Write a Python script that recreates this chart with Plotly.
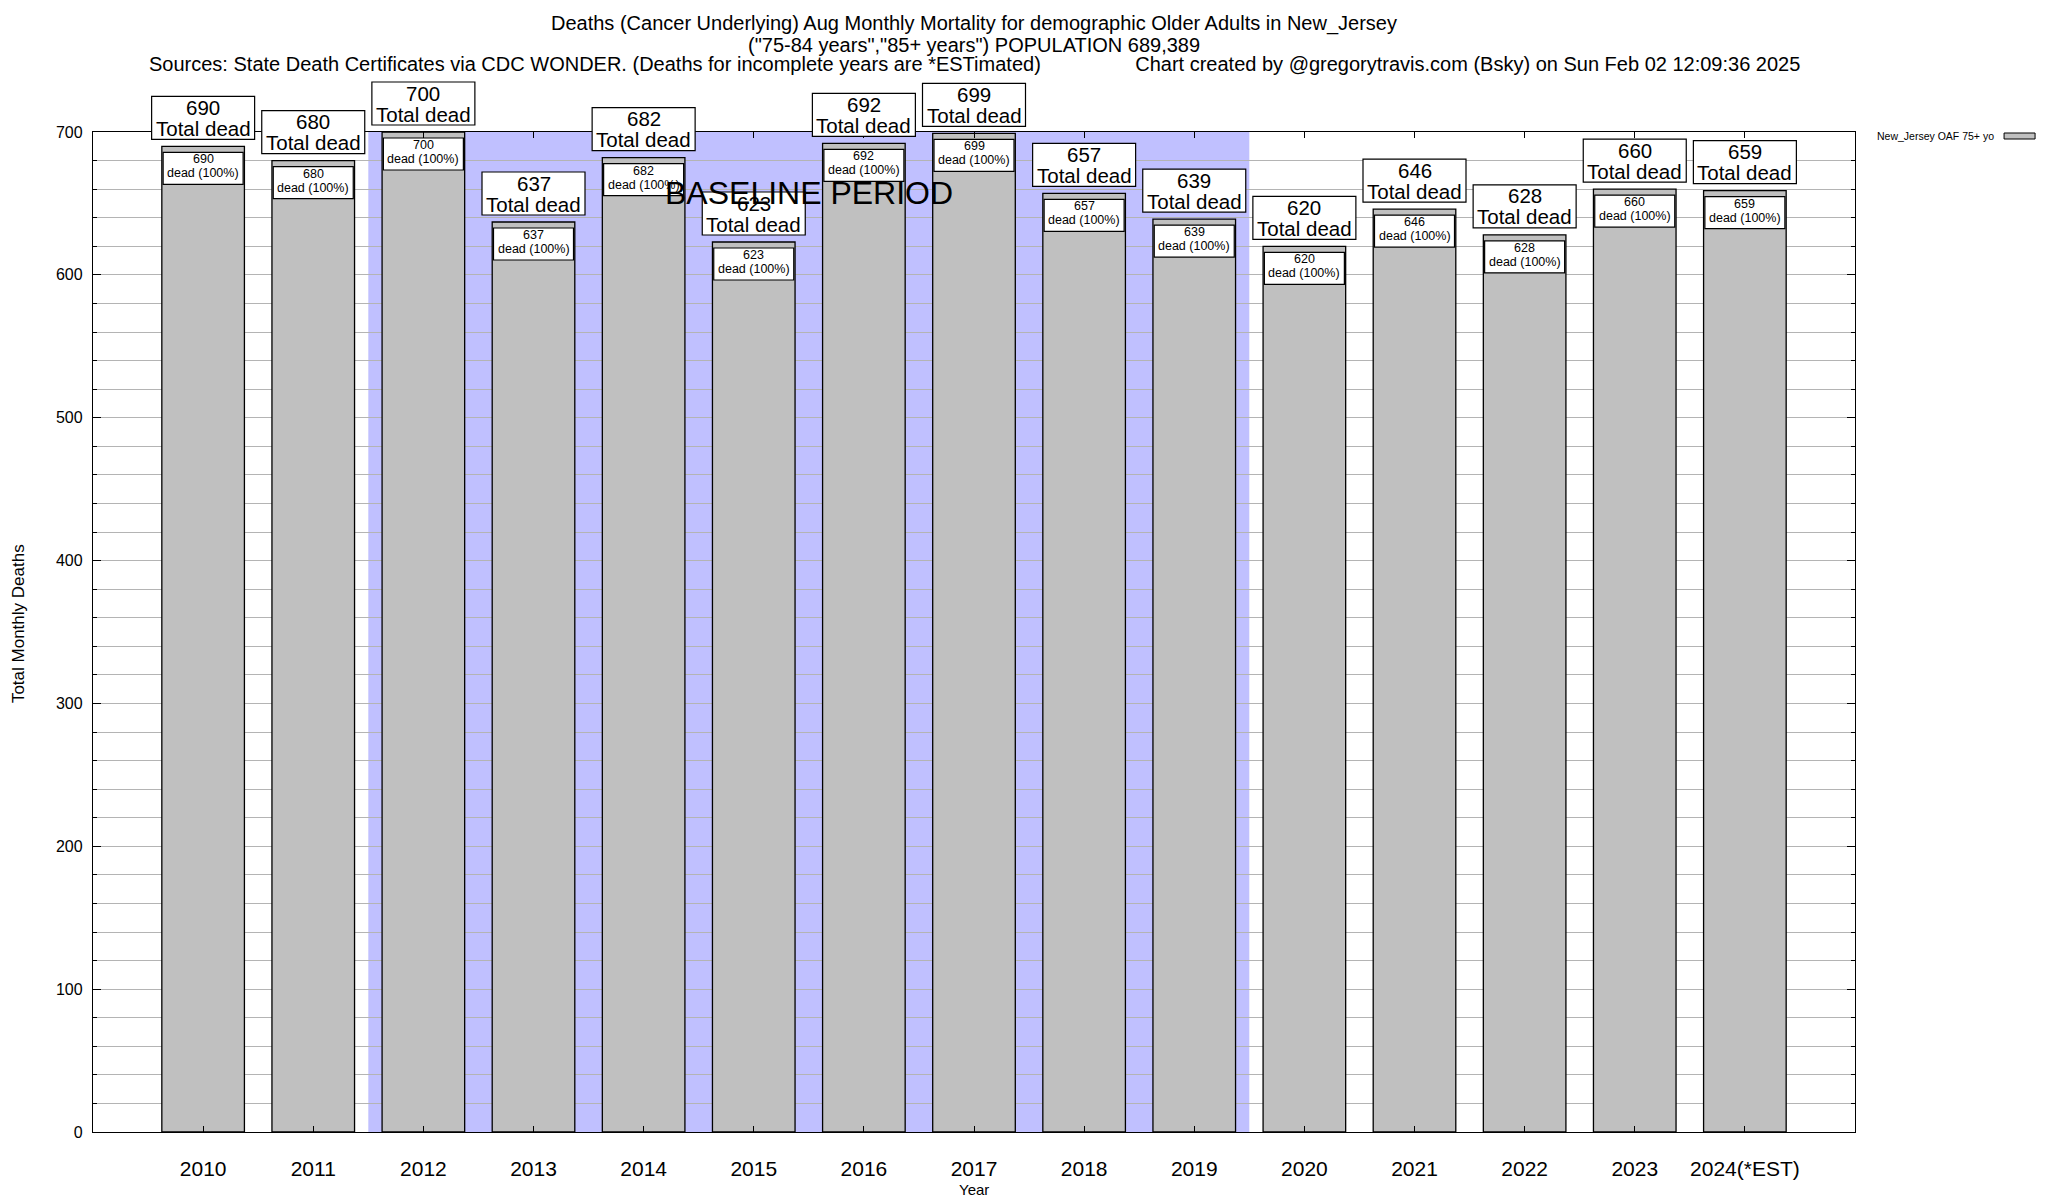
import plotly.graph_objects as go

# ---- data ----
years = ["2010", "2011", "2012", "2013", "2014", "2015", "2016", "2017",
         "2018", "2019", "2020", "2021", "2022", "2023", "2024(*EST)"]
deaths = [690, 680, 700, 637, 682, 623, 692, 699, 657, 639, 620, 646, 628, 660, 659]
series_name = "New_Jersey OAF 75+ yo"
baseline_start, baseline_end = "2012", "2019"
title_lines = [
    "Deaths (Cancer Underlying) Aug Monthly Mortality for demographic Older Adults in New_Jersey",
    "(\"75-84 years\",\"85+ years\") POPULATION 689,389",
    "Sources: State Death Certificates via CDC WONDER. (Deaths for incomplete years are *ESTimated)"
    + "\u00a0" * 17 + "Chart created by @gregorytravis.com (Bsky) on Sun Feb 02 12:09:36 2025",
]
Y_RANGE = [0, 700]

FONT = "Liberation Sans, Arial, Helvetica, sans-serif"
BAR_GRAY = "#c0c0c0"
SHADE = "#c0c0ff"
GRID = "#b4b4b4"

fig = go.Figure()
fig.add_trace(go.Bar(
    x=years, y=deaths, width=0.75,
    marker=dict(color=BAR_GRAY, line=dict(color="black", width=1.3)),
    name=series_name, showlegend=False,
))

i0 = years.index(baseline_start) - 0.5
i1 = years.index(baseline_end) + 0.5
fig.add_shape(type="rect", xref="x", yref="y", x0=i0, x1=i1, y0=Y_RANGE[0], y1=Y_RANGE[1],
              fillcolor=SHADE, line=dict(width=0), layer="below")


def yfrac(v):
    # position of a value on the y scale as a fraction of the plot height
    return (v - Y_RANGE[0]) / (Y_RANGE[1] - Y_RANGE[0])


annotations = []
for idx, v in enumerate(deaths):
    # outer "Total dead" box, anchored at the bar top (pixel-sized, not clipped vertically)
    fig.add_shape(type="rect", xref="x", yref="paper",
                  xsizemode="pixel", ysizemode="pixel", xanchor=idx, yanchor=yfrac(v),
                  x0=-51.5, x1=51.5, y0=7, y1=50,
                  fillcolor="white", line=dict(color="black", width=1.2), layer="above")
    # inner "dead (100%)" box
    fig.add_shape(type="rect", xref="x", yref="paper",
                  xsizemode="pixel", ysizemode="pixel", xanchor=idx, yanchor=yfrac(v),
                  x0=-40, x1=40, y0=-6, y1=-38,
                  fillcolor="white", line=dict(color="black", width=1.2), layer="above")
    annotations.append(dict(
        x=idx, y=v, xref="x", yref="y", text=f"{v}", showarrow=False,
        yanchor="middle", yshift=39, font=dict(family=FONT, size=20.5, color="black")))
    annotations.append(dict(
        x=idx, y=v, xref="x", yref="y", text="Total dead", showarrow=False,
        yanchor="middle", yshift=18, font=dict(family=FONT, size=20.5, color="black")))
    annotations.append(dict(
        x=idx, y=v, xref="x", yref="y", text=f"{v}", showarrow=False,
        yanchor="middle", yshift=-13, font=dict(family=FONT, size=12.5, color="black")))
    annotations.append(dict(
        x=idx, y=v, xref="x", yref="y", text="dead (100%)", showarrow=False,
        yanchor="middle", yshift=-27, font=dict(family=FONT, size=12.5, color="black")))

annotations.append(dict(
    x=(i0 + i1) / 2, y=657, xref="x", yref="y", text="BASELINE PERIOD",
    showarrow=False, xanchor="center", yanchor="middle",
    font=dict(family=FONT, size=32, color="black"),
))

for txt, yp in zip(title_lines, [1.108, 1.087, 1.068]):
    annotations.append(dict(
        x=0.5, y=yp, xref="paper", yref="paper", text=txt, showarrow=False,
        xanchor="center", yanchor="middle",
        font=dict(family=FONT, size=20, color="black"),
    ))

annotations.append(dict(
    x=-0.0425, y=0.508, xref="paper", yref="paper", text="Total Monthly Deaths",
    showarrow=False, textangle=-90, xanchor="center", yanchor="middle",
    font=dict(family=FONT, size=17, color="black"),
))
annotations.append(dict(
    x=0.5, y=-0.057, xref="paper", yref="paper", text="Year",
    showarrow=False, xanchor="center", yanchor="middle",
    font=dict(family=FONT, size=15, color="black"),
))

# legend (text then swatch, as in the original)
annotations.append(dict(
    x=1.080, y=0.996, xref="paper", yref="paper", text=series_name,
    showarrow=False, xanchor="right", yanchor="middle",
    font=dict(family=FONT, size=10.5, color="black"),
))
fig.add_shape(type="rect", xref="paper", yref="paper", x0=1.0846, x1=1.1022,
              y0=0.993, y1=0.999, fillcolor=BAR_GRAY, line=dict(color="black", width=1))

fig.update_layout(
    width=2040, height=1192,
    margin=dict(l=85, r=193, t=124, b=68, autoexpand=False),
    paper_bgcolor="white", plot_bgcolor="white",
    font=dict(family=FONT, color="black"),
    annotations=annotations,
    bargap=0.25,
    showlegend=False,
)
fig.update_xaxes(
    type="category", range=[-1, len(years)], showgrid=False,
    showline=True, linecolor="black", linewidth=1.3, mirror="ticks",
    ticks="inside", ticklen=6, tickcolor="black",
    tickfont=dict(family=FONT, size=21, color="black"),
    ticklabelstandoff=18, zeroline=False, automargin=False,
)
fig.update_yaxes(
    range=Y_RANGE, dtick=100, showgrid=True, gridcolor=GRID, gridwidth=1,
    showline=True, linecolor="black", linewidth=1.3, mirror="ticks",
    ticks="inside", ticklen=8, tickcolor="black",
    tickfont=dict(family=FONT, size=16, color="black"),
    ticklabelstandoff=6, zeroline=False, automargin=False,
    minor=dict(dtick=20, showgrid=True, gridcolor=GRID, gridwidth=1,
               ticks="inside", ticklen=4, tickcolor="black"),
)

fig.write_html("out.html")
